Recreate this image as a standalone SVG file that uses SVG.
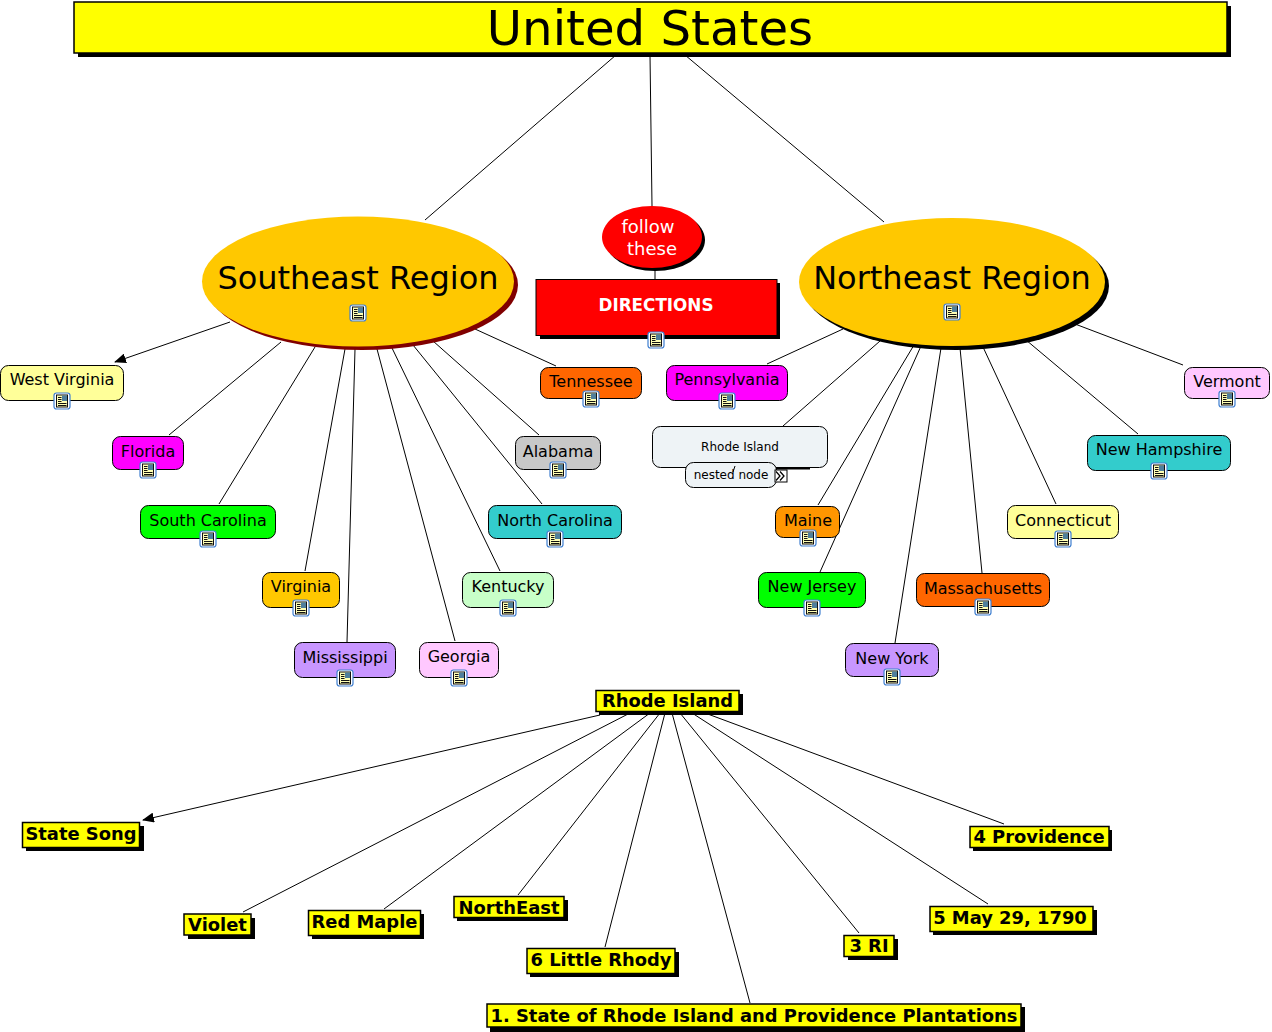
<svg xmlns="http://www.w3.org/2000/svg" width="1272" height="1032" viewBox="0 0 1272 1032">
<style>
text{font-family:"DejaVu Sans",Verdana,sans-serif;text-anchor:middle;fill:#000}
.n{font-size:16px}
.r{stroke:#000;stroke-width:1}
.b{font-size:17.9px;font-weight:bold}
.y{fill:#ff0;stroke:#000;stroke-width:1.5}
.s{fill:#000}
#connectors line{stroke:#000;stroke-width:1}
</style>
<defs>
<marker id="arrow" markerWidth="12" markerHeight="10" refX="11" refY="5" orient="auto" markerUnits="userSpaceOnUse"><path d="M0 0L12 5L0 10z" fill="#000"/></marker>
<g id="icon">
<rect x="-8" y="-8" width="16" height="16" rx="2.500" fill="#fff" stroke="#3f7fd0" stroke-width="1.200"/>
<rect x="-5.500" y="-6" width="11" height="12" fill="#ffffb4" stroke="#111" stroke-width="1"/>
<rect x="0" y="-5.500" width="5" height="5.500" fill="#4f7f9c"/>
<path d="M-4-3.500H-.5M-4-1.500H-.5M-4 .5H-.5M-4 2.500H4.500M-4 4.500H4.500" stroke="#111" stroke-width="1"/>
</g>
</defs>
<g id="connectors">
<line x1="616" y1="55" x2="425" y2="220"/>
<line x1="650" y1="55" x2="652" y2="206"/>
<line x1="685" y1="55" x2="884" y2="222"/>
<line x1="655" y1="268" x2="655" y2="279"/>
<line x1="230" y1="322" x2="115" y2="362" marker-end="url(#arrow)"/>
<line x1="281" y1="342" x2="169" y2="435"/>
<line x1="315" y1="347" x2="219" y2="504"/>
<line x1="345" y1="349" x2="305" y2="571"/>
<line x1="355" y1="349" x2="347" y2="642"/>
<line x1="377" y1="349" x2="455" y2="641"/>
<line x1="392" y1="348" x2="500" y2="571"/>
<line x1="413" y1="345" x2="542" y2="504"/>
<line x1="433" y1="341" x2="539" y2="435"/>
<line x1="475" y1="329" x2="556" y2="366"/>
<line x1="843" y1="329" x2="767" y2="364"/>
<line x1="880" y1="341" x2="783" y2="426"/>
<line x1="914" y1="345" x2="818" y2="505"/>
<line x1="921" y1="346" x2="820" y2="572"/>
<line x1="941" y1="348" x2="895" y2="643"/>
<line x1="960" y1="348" x2="982" y2="573"/>
<line x1="983" y1="347" x2="1056" y2="504"/>
<line x1="1026" y1="340" x2="1138" y2="434"/>
<line x1="1075" y1="324" x2="1183" y2="365"/>
<line x1="600" y1="715" x2="143" y2="820" marker-end="url(#arrow)"/>
<line x1="630" y1="713" x2="243" y2="912"/>
<line x1="650" y1="713" x2="384" y2="909"/>
<line x1="660" y1="713" x2="518" y2="895"/>
<line x1="665" y1="713" x2="605" y2="947"/>
<line x1="672" y1="713" x2="750" y2="1003"/>
<line x1="680" y1="713" x2="859" y2="933"/>
<line x1="692" y1="713" x2="988" y2="904"/>
<line x1="705" y1="713" x2="1004" y2="824"/>
</g>
<g id="title"><rect x="78" y="6" width="1153" height="51" class="s"/><rect x="74" y="2" width="1153" height="51" class="y"/><text x="650" y="44.500" font-size="48.200">United States</text></g>
<g id="southeast"><ellipse cx="362" cy="285" rx="156" ry="65" fill="#800000"/><ellipse cx="358" cy="281.500" rx="156" ry="65" fill="#ffc800"/><text x="358" y="288.500" font-size="32">Southeast Region</text><use href="#icon" x="358" y="313"/></g>
<g id="northeast"><ellipse cx="956" cy="286" rx="153" ry="64" class="s"/><ellipse cx="952" cy="282" rx="153" ry="64" fill="#ffc800"/><text x="952" y="288.500" font-size="32">Northeast Region</text><use href="#icon" x="952" y="312"/></g>
<g id="follow"><ellipse cx="655" cy="240" rx="50" ry="31" class="s"/><ellipse cx="652" cy="237" rx="50" ry="31" fill="#f00"/><text x="648" y="233" font-size="18" style="fill:#fff">follow</text><text x="652" y="255" font-size="18" style="fill:#fff">these</text></g>
<g id="directions"><rect x="540" y="283" width="240" height="56" class="s"/><rect x="536" y="279.500" width="241" height="56" fill="#f00" stroke="#000"/><text x="656" y="311" font-size="16.800" font-weight="bold" style="fill:#fff">DIRECTIONS</text><use href="#icon" x="656" y="340"/></g>
<g id="west-virginia"><rect x="0.500" y="365.500" width="123" height="35" rx="8" fill="#ffff99" class="r"/><text x="62" y="385" class="n">West Virginia</text><use href="#icon" x="62" y="401"/></g>
<g id="florida"><rect x="112.500" y="436.500" width="71" height="33" rx="8" fill="#f0f" class="r"/><text x="148" y="457" class="n">Florida</text><use href="#icon" x="148" y="470"/></g>
<g id="south-carolina"><rect x="140.500" y="505.500" width="135" height="33" rx="8" fill="#0f0" class="r"/><text x="208" y="526" class="n">South Carolina</text><use href="#icon" x="208" y="539"/></g>
<g id="virginia"><rect x="262.500" y="572.500" width="77" height="35" rx="8" fill="#ffc800" class="r"/><text x="301" y="592" class="n">Virginia</text><use href="#icon" x="301" y="608"/></g>
<g id="mississippi"><rect x="294.500" y="642.500" width="101" height="35" rx="8" fill="#c896ff" class="r"/><text x="345" y="663" class="n">Mississippi</text><use href="#icon" x="345" y="678"/></g>
<g id="georgia"><rect x="419.500" y="642.500" width="79" height="35" rx="8" fill="#ffc8ff" class="r"/><text x="459" y="662" class="n">Georgia</text><use href="#icon" x="459" y="678"/></g>
<g id="kentucky"><rect x="462.500" y="572.500" width="91" height="35" rx="8" fill="#c8ffc8" class="r"/><text x="508" y="592" class="n">Kentucky</text><use href="#icon" x="508" y="608"/></g>
<g id="north-carolina"><rect x="488.500" y="505.500" width="133" height="33" rx="8" fill="#33cccc" class="r"/><text x="555" y="526" class="n">North Carolina</text><use href="#icon" x="555" y="539"/></g>
<g id="alabama"><rect x="515.500" y="436.500" width="85" height="33" rx="8" fill="#c8c8c8" class="r"/><text x="558" y="457" class="n">Alabama</text><use href="#icon" x="558" y="470"/></g>
<g id="tennessee"><rect x="540.500" y="367.500" width="101" height="31" rx="8" fill="#ff6600" class="r"/><text x="591" y="387" class="n">Tennessee</text><use href="#icon" x="591" y="399"/></g>
<g id="pennsylvania"><rect x="666.500" y="365.500" width="121" height="35" rx="8" fill="#f0f" class="r"/><text x="727" y="385" class="n">Pennsylvania</text><use href="#icon" x="727" y="401"/></g>
<g id="rhode-island"><rect x="770" y="464" width="40" height="5.500" fill="#000"/><rect x="652.500" y="426.500" width="175" height="41" rx="8" fill="#eef3f6" class="r"/><text x="740" y="451" font-size="12">Rhode Island</text><rect x="685.500" y="462.500" width="91" height="25" rx="8" fill="#eef3f6" class="r"/><text x="731" y="479" font-size="12">nested node</text><rect x="775" y="470" width="12" height="12" fill="#fff" stroke="#000" stroke-width="1"/><path d="M776 471.500l4 4.500-4 4.500M780 471.500l4 4.500-4 4.500" fill="none" stroke="#000" stroke-width="1.300"/><line x1="735" y1="466" x2="733" y2="472" stroke="#000"/></g>
<g id="maine"><rect x="775.500" y="506.500" width="64" height="31" rx="8" fill="#ff9600" class="r"/><text x="808" y="526" class="n">Maine</text><use href="#icon" x="808" y="538"/></g>
<g id="new-jersey"><rect x="758.500" y="572.500" width="107" height="35" rx="8" fill="#0f0" class="r"/><text x="812" y="592" class="n">New Jersey</text><use href="#icon" x="812" y="608"/></g>
<g id="new-york"><rect x="845.500" y="643.500" width="93" height="33" rx="8" fill="#c896ff" class="r"/><text x="892" y="664" class="n">New York</text><use href="#icon" x="892" y="677"/></g>
<g id="massachusetts"><rect x="916.500" y="573.500" width="133" height="33" rx="8" fill="#ff6600" class="r"/><text x="983" y="594" class="n">Massachusetts</text><use href="#icon" x="983" y="607"/></g>
<g id="connecticut"><rect x="1007.500" y="505.500" width="111" height="33" rx="8" fill="#ffff99" class="r"/><text x="1063" y="526" class="n">Connecticut</text><use href="#icon" x="1063" y="539"/></g>
<g id="new-hampshire"><rect x="1087.500" y="435.500" width="143" height="35" rx="8" fill="#33cccc" class="r"/><text x="1159" y="455" class="n">New Hampshire</text><use href="#icon" x="1159" y="471"/></g>
<g id="vermont"><rect x="1184.500" y="367.500" width="85" height="31" rx="8" fill="#ffc8ff" class="r"/><text x="1227" y="387" class="n">Vermont</text><use href="#icon" x="1227" y="399"/></g>
<g id="ri-head"><rect x="599" y="694" width="144" height="21" class="s"/><rect x="596" y="690.500" width="143" height="21" class="y"/><text x="667.500" y="706.500" class="b">Rhode Island</text></g>
<g id="state-song"><rect x="26" y="826" width="118" height="25" class="s"/><rect x="22.500" y="822.500" width="117" height="25" class="y"/><text x="81" y="839.500" class="b">State Song</text></g>
<g id="violet"><rect x="188" y="918" width="67" height="21" class="s"/><rect x="184" y="914" width="67" height="21" class="y"/><text x="217.500" y="930.500" class="b">Violet</text></g>
<g id="red-maple"><rect x="312" y="914" width="112" height="25" class="s"/><rect x="308.500" y="910.500" width="112" height="25" class="y"/><text x="364.500" y="927.500" class="b">Red Maple</text></g>
<g id="northeast-leaf"><rect x="457" y="900" width="111" height="21" class="s"/><rect x="454" y="896.500" width="110" height="21" class="y"/><text x="509" y="913.500" class="b">NorthEast</text></g>
<g id="little-rhody"><rect x="530" y="952" width="149" height="25" class="s"/><rect x="527" y="948.500" width="148" height="25" class="y"/><text x="601" y="965.500" class="b">6 Little Rhody</text></g>
<g id="official-name"><rect x="490" y="1007" width="535" height="25" class="s"/><rect x="487" y="1004" width="534" height="23" class="y"/><text x="754" y="1021.500" class="b">1. State of Rhode Island and Providence Plantations</text></g>
<g id="ri3"><rect x="848" y="939" width="50" height="21" class="s"/><rect x="844" y="935.500" width="50" height="21" class="y"/><text x="869" y="951.500" class="b">3 RI</text></g>
<g id="may29"><rect x="933" y="910" width="164" height="25" class="s"/><rect x="930" y="906.500" width="163" height="25" class="y"/><text x="1010" y="923.500" class="b">5 May 29, 1790</text></g>
<g id="providence"><rect x="973" y="830" width="139" height="21" class="s"/><rect x="970" y="826.500" width="139" height="21" class="y"/><text x="1039" y="842.500" class="b">4 Providence</text></g>
</svg>
